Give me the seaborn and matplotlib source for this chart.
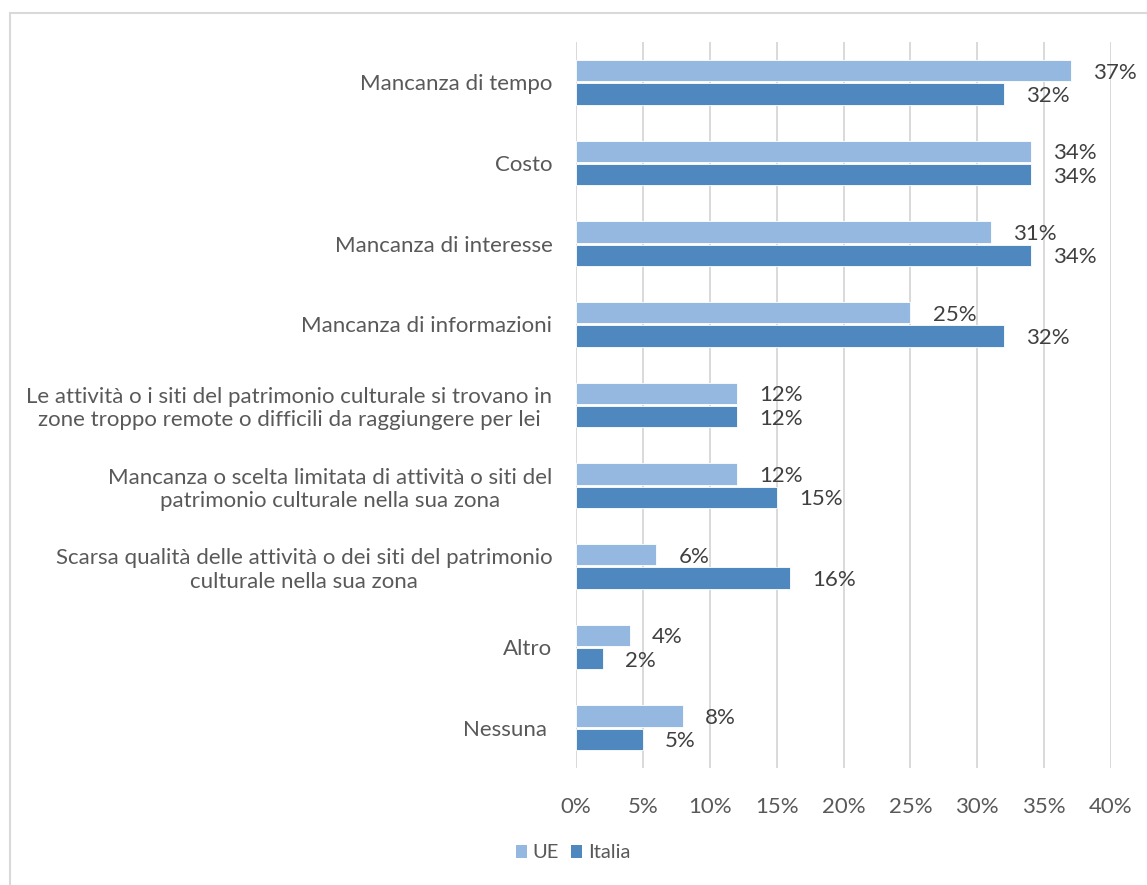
import matplotlib
matplotlib.use("Agg")
import matplotlib.pyplot as plt
from matplotlib.patches import Patch
from matplotlib.lines import Line2D
import seaborn as sns
import pandas as pd

categories = [
    "Mancanza di tempo",
    "Costo",
    "Mancanza di interesse",
    "Mancanza di informazioni",
    "Le attività o i siti del patrimonio culturale si trovano in\nzone troppo remote o difficili da raggiungere per lei",
    "Mancanza o scelta limitata di attività o siti del\npatrimonio culturale nella sua zona",
    "Scarsa qualità delle attività o dei siti del patrimonio\nculturale nella sua zona",
    "Altro",
    "Nessuna ",
]
ue_values = [37, 34, 31, 25, 12, 12, 6, 4, 8]
italia_values = [32, 34, 34, 32, 12, 15, 16, 2, 5]
series_names = ["UE", "Italia"]
x_ticks = [0, 5, 10, 15, 20, 25, 30, 35, 40]

colors = {"UE": "#95b8e0", "Italia": "#4f88be"}

df = pd.DataFrame({
    "categoria": categories * 2,
    "serie": [series_names[0]] * len(categories) + [series_names[1]] * len(categories),
    "valore": ue_values + italia_values,
})

sns.set_theme(style="white")
plt.rcParams["font.family"] = ["Lato", "DejaVu Sans"]

FS = 16

fig = plt.figure(figsize=(11.47, 8.85), dpi=100)
ax = fig.add_axes([576 / 1147, 1 - 768 / 885, (1111 - 576) / 1147, (768 - 42) / 885])

sns.barplot(
    data=df, y="categoria", x="valore", hue="serie", order=categories,
    hue_order=series_names, palette=colors, saturation=1, orient="h",
    width=0.58, gap=0.08, edgecolor="white", linewidth=0.6, ax=ax,
    legend=False, zorder=3,
)

ax.set_xlim(0, 40)
ax.set_ylim(len(categories) - 0.5, -0.5)
ax.set_xticks(x_ticks)
ax.set_xticklabels([f"{t}%" for t in x_ticks])
ax.grid(axis="x", color="#d9d9d9", linewidth=1.4, zorder=0)
ax.grid(axis="y", visible=False)
for s in ax.spines.values():
    s.set_visible(False)
ax.set_xlabel("")
ax.set_ylabel("")
ax.tick_params(axis="x", length=0, pad=21, labelsize=FS, labelcolor="#595959")
ax.tick_params(axis="y", length=0, pad=17, labelsize=FS, labelcolor="#595959")
for lab in ax.get_yticklabels():
    lab.set_multialignment("center")

# value labels at the end of each bar, sitting slightly below the bar centre
for container, name in zip(ax.containers, series_names):
    labels = [f"{v}%" for v in (ue_values if name == "UE" else italia_values)]
    texts = ax.bar_label(container, labels=labels, padding=16, fontsize=FS, color="#404040")
    for t in texts:
        t.set_y(t.get_position()[1])
        t.set_va("center_baseline")

# legend below the plot
handles = [Patch(facecolor=colors[n], edgecolor="none") for n in series_names]
fig.legend(handles, series_names, loc="center", bbox_to_anchor=(0.4996, 1 - 853 / 885),
           ncol=2, frameon=False, handlelength=0.55, handleheight=0.65,
           handletextpad=0.3, columnspacing=0.6, fontsize=14.5, labelcolor="#595959")

# chart border
border = "#d9d9d9"
fig.add_artist(Line2D([10 / 1147, 1], [1 - 13 / 885] * 2, color=border, lw=1.5, transform=fig.transFigure))
fig.add_artist(Line2D([10 / 1147] * 2, [0, 1 - 13 / 885], color=border, lw=1.5, transform=fig.transFigure))

fig.savefig("out.png", dpi=100, facecolor="white")
